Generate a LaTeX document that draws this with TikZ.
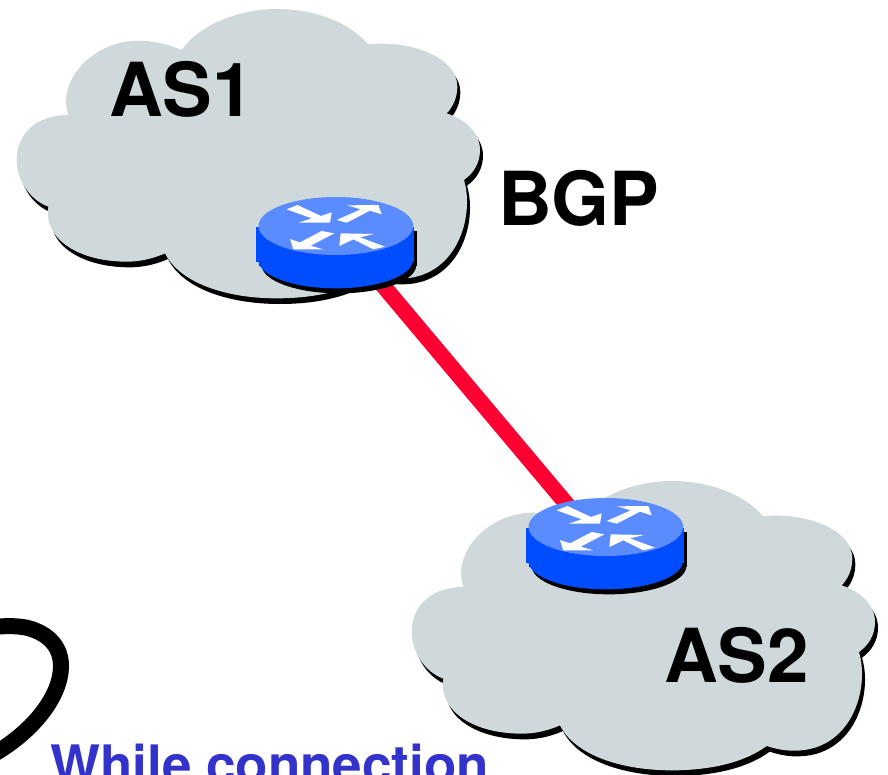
\documentclass[tikz,border=0pt]{standalone}
\usepackage{fontspec}
\setmainfont{TeX Gyre Heros}
\definecolor{cloudgrey}{HTML}{CFD9DB}
\definecolor{routertop}{HTML}{5A8CFF}
\definecolor{routerside}{HTML}{004CFF}
\definecolor{linkred}{HTML}{FF0033}
\definecolor{noteblue}{HTML}{3333CC}
\tikzset{
  big label/.style={font=\fontsize{74.5}{80}\selectfont\bfseries, text=black, inner sep=0pt, anchor=base west},
  note label/.style={font=\fontsize{53}{60}\selectfont\bfseries, text=noteblue, inner sep=0pt, anchor=base west},
  link line/.style={draw=linkred, line width=16pt},
  loop line/.style={draw=black, line width=16pt},
  cloudpic/.pic={
    \begin{scope}[x=0.33333pt,y=-0.33333pt]
      \def\cloudoutline{(545,150) .. controls (610,60) and (740,27) .. (830,27)
        .. controls (950,27) and (1050,70) .. (1105,133)
        .. controls (1230,120) and (1372,170) .. (1372,260)
        .. controls (1372,290) and (1360,320) .. (1340,340)
        .. controls (1400,360) and (1440,400) .. (1440,450)
        .. controls (1440,490) and (1420,520) .. (1392,540)
        .. controls (1425,650) and (1370,838) .. (1195,836)
        .. controls (1165,836) and (1140,830) .. (1115,822)
        .. controls (1050,870) and (950,895) .. (830,895)
        .. controls (680,895) and (540,850) .. (495,760)
        .. controls (450,780) and (410,785) .. (380,785)
        .. controls (240,785) and (130,720) .. (145,620)
        .. controls (90,600) and (50,540) .. (50,480)
        .. controls (50,400) and (110,345) .. (205,345)
        .. controls (170,240) and (280,122) .. (415,122)
        .. controls (465,122) and (510,135) .. (545,150) -- cycle}
      \fill[black,shift={(9,17)}] \cloudoutline;
      \fill[cloudgrey] \cloudoutline;
    \end{scope}
  },
  routerpic/.pic={
    \begin{scope}[x=0.33333pt,y=-0.33333pt]
      \fill[black] (58,153) rectangle (532,258);
      \fill[black] (297,255) ellipse [x radius=232, y radius=85];
      \fill[routerside] (48,140) rectangle (522,245);
      \fill[routerside] (287,240) ellipse [x radius=232, y radius=85];
      \fill[routertop] (287.5,138) ellipse [x radius=232, y radius=87];
      \fill[white] (140,88) -- (172,75) -- (243,108) -- (275,97) -- (270,128) -- (176,128) -- (215,115) -- cycle;
      \fill[white] (290,120) -- (362,88) -- (322,76) -- (415,75) -- (425,103) -- (390,92) -- (320,128) -- cycle;
      \fill[white] (245,153) -- (283,160) -- (212,197) -- (250,208) -- (160,208) -- (150,177) -- (180,187) -- cycle;
      \fill[white] (435,200) -- (400,208) -- (340,178) -- (298,198) -- (302,160) -- (402,162) -- (360,172) -- cycle;
    \end{scope}
  }
}
\begin{document}
\begin{tikzpicture}[x=1pt,y=-1pt]
  \useasboundingbox (0,0) rectangle (888,774);
  \clip (0,0) rectangle (888,774);
  \pic (cloudA) at (0,0) {cloudpic};
  \pic (cloudB) at (395,472) {cloudpic};
  \coordinate (linkA) at (375,276);
  \coordinate (linkB) at (575,514);
  \draw[link line] (linkA) -- (linkB);
  \pic (routerA) at (240,180) {routerpic};
  \pic (routerB) at (510,481) {routerpic};
  \node[big label] (as1) at (109,116) {AS1};
  \node[big label] (as2) at (664,682) {AS2};
  \node[big label] (bgp) at (498,225) {BGP};
  \draw[loop line] (-12,628) .. controls (5,625) and (20,626) .. (28,628)
     .. controls (50,634) and (61,648) .. (61,666)
     .. controls (61,695) and (35,730) .. (-6,754);
  \node[note label] (note) at (50,783) {While connection};
\end{tikzpicture}
\end{document}
